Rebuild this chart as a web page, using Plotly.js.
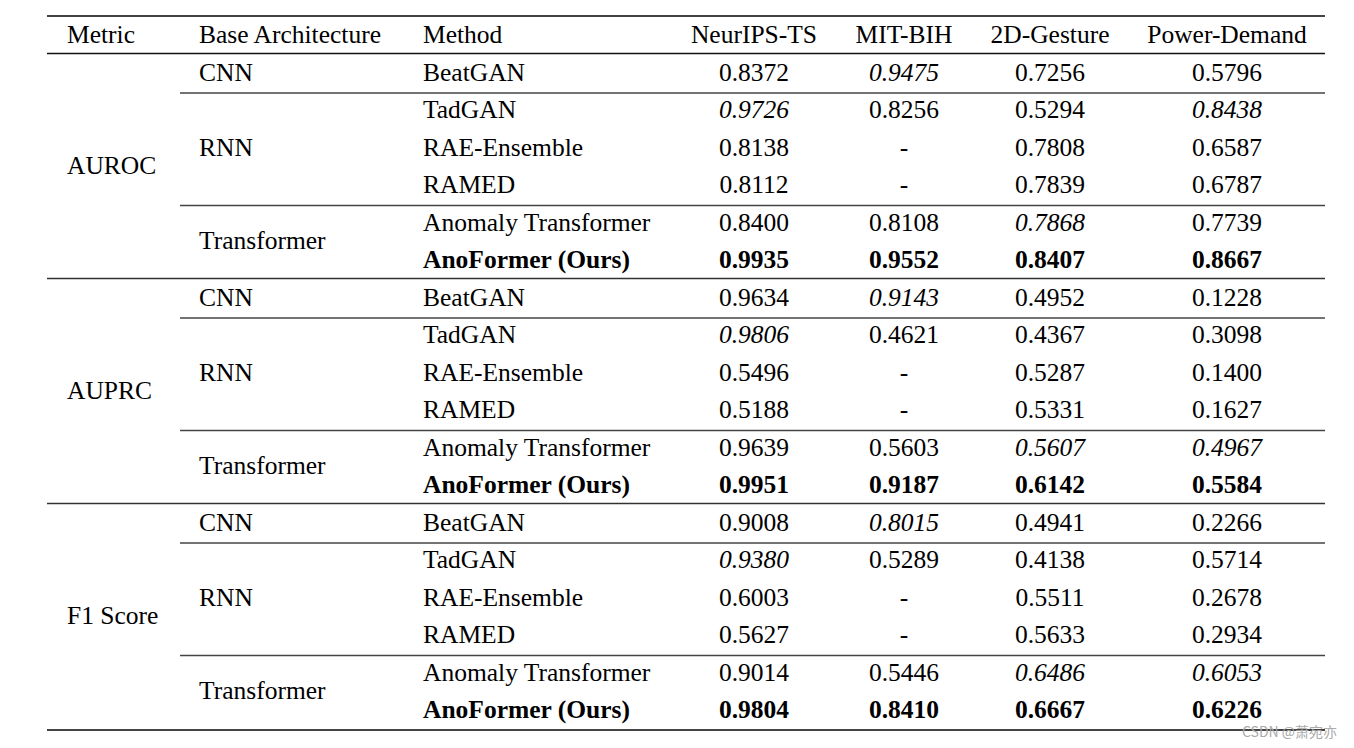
<!DOCTYPE html>
<html>
<head>
<meta charset="utf-8">
<script src="https://cdn.plot.ly/plotly-3.0.1.min.js"></script>
<style>html,body{margin:0;padding:0;background:#fff;}#chart{width:1354px;height:748px;}</style>
</head>
<body>
<div id="chart"></div>
<script>
// ---- data ----
const headers = ['Metric', 'Base Architecture', 'Method'];
const datasets = ['NeurIPS-TS', 'MIT-BIH', '2D-Gesture', 'Power-Demand'];
const metrics = ['AUROC', 'AUPRC', 'F1 Score'];
const archNames = ['CNN', 'RNN', 'Transformer'];
const archSpans = [1, 3, 2];
const methods = ['BeatGAN', 'TadGAN', 'RAE-Ensemble', 'RAMED', 'Anomaly Transformer', 'AnoFormer (Ours)'];
const oursMethod = 'AnoFormer (Ours)';
// rows = methods, columns = datasets; null = '-'
const auroc = [
  [0.8372, 0.9475, 0.7256, 0.5796],
  [0.9726, 0.8256, 0.5294, 0.8438],
  [0.8138, null, 0.7808, 0.6587],
  [0.8112, null, 0.7839, 0.6787],
  [0.8400, 0.8108, 0.7868, 0.7739],
  [0.9935, 0.9552, 0.8407, 0.8667]
];
const auprc = [
  [0.9634, 0.9143, 0.4952, 0.1228],
  [0.9806, 0.4621, 0.4367, 0.3098],
  [0.5496, null, 0.5287, 0.1400],
  [0.5188, null, 0.5331, 0.1627],
  [0.9639, 0.5603, 0.5607, 0.4967],
  [0.9951, 0.9187, 0.6142, 0.5584]
];
const f1 = [
  [0.9008, 0.8015, 0.4941, 0.2266],
  [0.9380, 0.5289, 0.4138, 0.5714],
  [0.6003, null, 0.5511, 0.2678],
  [0.5627, null, 0.5633, 0.2934],
  [0.9014, 0.5446, 0.6486, 0.6053],
  [0.9804, 0.8410, 0.6667, 0.6226]
];
const metricTables = [auroc, auprc, f1];
const watermark = 'CSDN @萧宛亦';

// ---- layout constants ----
const W = 1354, H = 748;
const leftCols = [67, 199, 423];
const centerCols = [754, 904, 1050, 1227];
const tableLeft = 47, tableRight = 1325, partialLeft = 180;
const rowH = 37.5, tableTop = 16;
const textShift = 0.055;
const FONT = 'Liberation Serif, Times New Roman, serif';
const FS = 25.5;

// build cells
const L = {x: [], y: [], text: []};
const C = {x: [], y: [], text: []};
headers.forEach((h, i) => { L.x.push(leftCols[i]); L.y.push(0 + textShift); L.text.push(h); });
datasets.forEach((d, j) => { C.x.push(centerCols[j]); C.y.push(0 + textShift); C.text.push(d); });

const nM = methods.length;
const shapes = [];
function hline(y, x0, x1, w, col) {
  shapes.push({type: 'line', xref: 'x', yref: 'y', x0: x0, x1: x1, y0: y, y1: y,
    line: {width: w, color: col}});
}
hline(-0.5, tableLeft, tableRight, 2, '#444');
hline(0.5, tableLeft, tableRight, 1.3, '#111');

metricTables.forEach((tbl, g) => {
  const top = 1 + g * nM;
  L.x.push(leftCols[0]); L.y.push(top + (nM - 1) / 2 + textShift); L.text.push(metrics[g]);
  let r = 0;
  archNames.forEach((a, k) => {
    const span = archSpans[k];
    L.x.push(leftCols[1]); L.y.push(top + r + (span - 1) / 2 + textShift); L.text.push(a);
    r += span;
    if (k < archNames.length - 1) hline(top + r - 0.5 + 0.05, partialLeft, tableRight, 1.5, '#444');
  });
  // ranks per column: best bold, second best italic
  const best = [], second = [];
  datasets.forEach((d, j) => {
    const vals = tbl.map(row => row[j]).filter(v => v !== null).sort((a, b) => b - a);
    best.push(vals[0]); second.push(vals[1]);
  });
  methods.forEach((m, i) => {
    const y = top + i + textShift;
    L.x.push(leftCols[2]); L.y.push(y);
    L.text.push(m === oursMethod ? '<b>' + m + '</b>' : m);
    tbl[i].forEach((v, j) => {
      C.x.push(centerCols[j]); C.y.push(y);
      let t;
      if (v === null) t = '-';
      else {
        t = v.toFixed(4);
        if (v === best[j]) t = '<b>' + t + '</b>';
        else if (v === second[j]) t = '<i>' + t + '</i>';
      }
      C.text.push(t);
    });
  });
  const bottom = top + nM - 0.5;
  if (g < metricTables.length - 1) hline(bottom, tableLeft, tableRight, 1.5, '#333');
  else hline(bottom + 0.04, tableLeft, tableRight, 2, '#444');
});

const font = {family: FONT, size: FS, color: '#000'};
const traces = [
  {type: 'scatter', mode: 'text', x: L.x, y: L.y, text: L.text, textposition: 'middle right',
   textfont: font, hoverinfo: 'skip', showlegend: false, cliponaxis: false},
  {type: 'scatter', mode: 'text', x: C.x, y: C.y, text: C.text, textposition: 'middle center',
   textfont: font, hoverinfo: 'skip', showlegend: false, cliponaxis: false}
];

const yTop = -0.5 - tableTop / rowH;
const yBot = yTop + H / rowH;
const layout = {
  width: W, height: H,
  margin: {l: 0, r: 0, t: 0, b: 0, pad: 0},
  paper_bgcolor: '#fff', plot_bgcolor: '#fff',
  xaxis: {range: [0, W], visible: false, fixedrange: true},
  yaxis: {range: [yBot, yTop], visible: false, fixedrange: true},
  shapes: shapes,
  annotations: [{
    text: watermark, xref: 'paper', yref: 'paper', x: 1339 / W, y: 1 - 731 / H,
    xanchor: 'right', yanchor: 'middle', showarrow: false,
    font: {family: 'Noto Sans CJK SC, Noto Sans, sans-serif', size: 14, color: '#aaa'}
  }],
  showlegend: false
};
Plotly.newPlot('chart', traces, layout, {staticPlot: true, displayModeBar: false});
</script>
</body>
</html>
